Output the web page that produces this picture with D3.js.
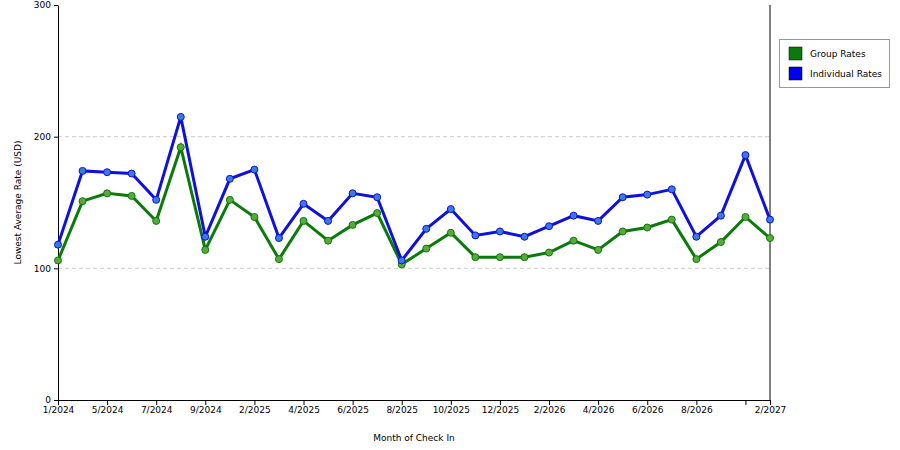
<!DOCTYPE html>
<html><head><meta charset="utf-8">
<script src="https://cdn.jsdelivr.net/npm/d3@7"></script>
<style>body{margin:0;background:#fff}text{font-family:"DejaVu Sans",sans-serif;font-size:9px;fill:#000}</style>
</head><body><div id="chart"></div>
<script>
const months = ["1/2024","","5/2024","","7/2024","","9/2024","","2/2025","","4/2025","","6/2025","","8/2025","","10/2025","","12/2025","","2/2026","","4/2026","","6/2026","","8/2026","","","2/2027"];
const groupRates = [106,151,157,155,136,192,114,152,139,107,136,121,133,142,103,115,127,108.5,108.5,108.5,112,121,114,128,131,137,107,120,139,123];
const individualRates = [118,174,173,172,152,215,124,168,175,123,149,136,157,154,106,130,145,125,128,124,132,140,136,154,156,160,124,140,186,137];
const yTicks = [0,100,200,300];
const series = [
  {name:"Group Rates", values:groupRates, color:"#0a7a0a", dot:"#5aaa3a", swatch:"#0a7a0a"},
  {name:"Individual Rates", values:individualRates, color:"#1010dd", dot:"#3a7ae0", swatch:"#0000ee"}
];

const W = 900, H = 450, mLeft = 58, mRight = 770, mTop = 5, mBottom = 400;
const svg = d3.select("#chart").append("svg").attr("width", W).attr("height", H);
const idx = d3.range(months.length);
const x = d3.scalePoint().domain(idx).range([mLeft, mRight]);
const y = d3.scaleLinear().domain([0,300]).range([mBottom, mTop]);

// gridlines
svg.append("g").selectAll("line").data([100,200]).enter().append("line")
  .attr("x1", mLeft).attr("x2", mRight).attr("y1", d => y(d)).attr("y2", d => y(d))
  .attr("stroke", "#ccc").attr("stroke-dasharray", "4,3");

// frame
svg.append("line").attr("x1", mRight).attr("x2", mRight).attr("y1", mTop).attr("y2", mBottom).attr("stroke", "#000");

const yAxis = svg.append("g").attr("transform", `translate(${mLeft},0)`)
  .call(d3.axisLeft(y).tickValues(yTicks).tickSize(4).tickSizeOuter(0));
const xAxis = svg.append("g").attr("transform", `translate(0,${mBottom})`)
  .call(d3.axisBottom(x).tickFormat(i => months[i]).tickSize(4).tickSizeOuter(0));
xAxis.selectAll(".tick line").attr("y2", d => months[d] || d === 28 ? 5 : 0);
[yAxis, xAxis].forEach(a => a.selectAll("text").style("font-family", "DejaVu Sans").style("font-size", "9px"));

svg.append("text").attr("x", (mLeft + mRight) / 2).attr("y", 441).attr("text-anchor", "middle").text("Month of Check In");
svg.append("text").attr("transform", `translate(21,${(mTop + mBottom) / 2}) rotate(-90)`).attr("text-anchor", "middle").text("Lowest Average Rate (USD)");

const line = d3.line().x((d, i) => x(i)).y(d => y(d));
series.forEach(s => {
  svg.append("path").datum(s.values).attr("d", line).attr("fill", "none")
    .attr("stroke", s.color).attr("stroke-width", 3);
  svg.append("g").selectAll("circle").data(s.values).enter().append("circle")
    .attr("cx", (d, i) => x(i)).attr("cy", d => y(d)).attr("r", 3.5)
    .attr("fill", s.dot).attr("stroke", s.color).attr("stroke-width", 1);
});

// legend
const lg = svg.append("g");
lg.append("rect").attr("x", 779.5).attr("y", 39.5).attr("width", 110).attr("height", 48)
  .attr("fill", "#fff").attr("stroke", "#999");
series.forEach((s, i) => {
  lg.append("rect").attr("x", 789).attr("y", 47 + i * 20).attr("width", 13).attr("height", 13)
    .attr("fill", s.swatch).attr("stroke", "#000").attr("stroke-width", 0.5);
  lg.append("text").attr("x", 810).attr("y", 57 + i * 20).text(s.name);
});
</script></body></html>
